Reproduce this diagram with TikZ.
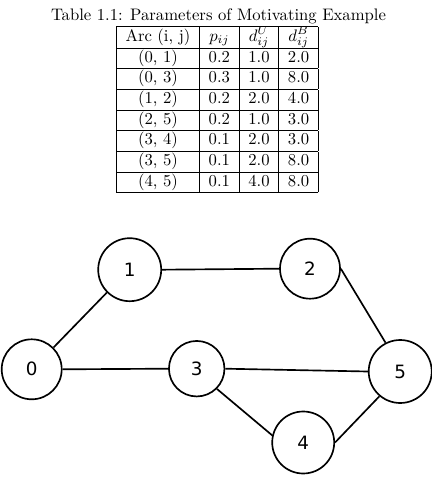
\documentclass[tikz,border=0pt]{standalone}
\usepackage{fontspec}
\newfontfamily\graphfont{DejaVu Sans}
\setlength{\tabcolsep}{5.5pt}
\begin{document}
\begin{tikzpicture}[x=0.6pt, y=-0.6pt,
    vertex/.style={draw, circle, line width=1pt, inner sep=0pt, font=\graphfont\fontsize{11}{13}\selectfont},
    arc/.style={line width=1pt}]
    \useasboundingbox (0,0) rectangle (432,481);
    \node[anchor=base] (caption) at (218.5,20.7) {Table 1.1: Parameters of Motivating Example};
    \node[anchor=north west, inner sep=0pt] (params) at (116,26) {%
        \begin{tabular}{|c|c|c|c|}
            \hline
            Arc (i, j) & $p_{ij}$ & $d^U_{ij}$ & $d^B_{ij}$ \\ \hline
            (0, 1) & 0.2 & 1.0 & 2.0 \\ \hline
            (0, 3) & 0.3 & 1.0 & 8.0 \\ \hline
            (1, 2) & 0.2 & 2.0 & 4.0 \\ \hline
            (2, 5) & 0.2 & 1.0 & 3.0 \\ \hline
            (3, 4) & 0.1 & 2.0 & 3.0 \\ \hline
            (3, 5) & 0.1 & 2.0 & 8.0 \\ \hline
            (4, 5) & 0.1 & 4.0 & 8.0 \\ \hline
        \end{tabular}};
    \node[vertex, minimum size=36pt] (v0) at (31.7,369.3) {0};
    \node[vertex, minimum size=37.8pt] (v1) at (129.7,269.7) {1};
    \node[vertex, minimum size=36pt] (v2) at (310,268.7) {2};
    \node[vertex, minimum size=33.3pt] (v3) at (196.7,368.7) {3};
    \node[vertex, minimum size=37.2pt] (v4) at (303.2,442.5) {4};
    \node[vertex, minimum size=37.8pt] (v5) at (400.2,371.5) {5};
    \draw[arc] (v0.north east) -- (v1.south west);
    \draw[arc] (v0.east) -- (v3.west);
    \draw[arc] (v1.east) -- (v2.west);
    \draw[arc] (v2.east) -- (v5.117);
    \draw[arc] (v3.east) -- (v5.west);
    \draw[arc] (v3.south east) -- (v4.167);
    \draw[arc] (v4.east) -- (v5.230);
\end{tikzpicture}
\end{document}
